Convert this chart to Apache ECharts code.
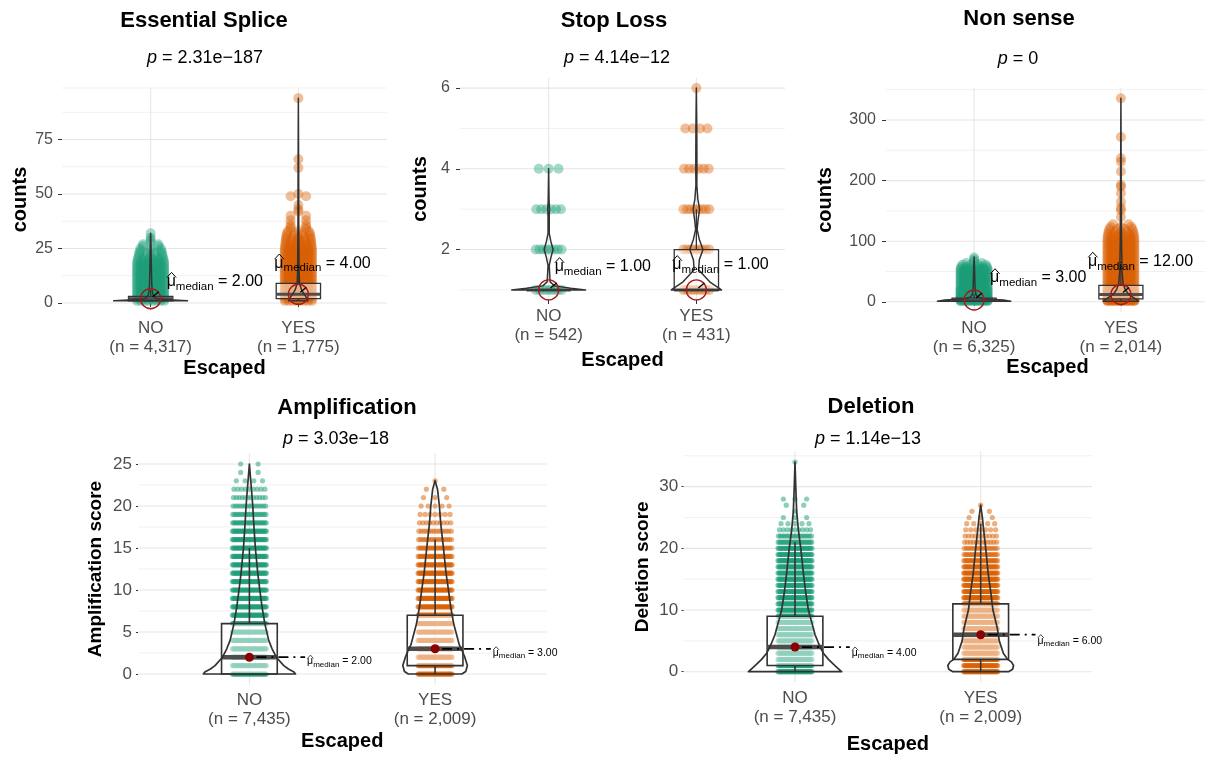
<!DOCTYPE html>
<html>
<head>
<meta charset="utf-8">
<script src="https://cdn.jsdelivr.net/npm/echarts@6/dist/echarts.min.js"></script>
<style>
  html, body { margin: 0; padding: 0; background: #ffffff; }
  #chart { width: 1205px; height: 757px; }
</style>
</head>
<body>
<div id="chart"></div>
<script>
// ---------------- data ----------------
const groups = ['NO', 'YES'];

// Essential Splice
const esP = '2.31e\u2212187';
const esN = [4317, 1775];
const esMedian = [2, 4];
const esQ1 = [1, 2];
const esQ3 = [3, 9];
const esWhiskerLo = [1, 1];
const esWhiskerHi = [6, 19];
const esTicks = [0, 25, 50, 75];
const esMinorTicks = [12.5, 37.5, 62.5, 87.5];
const esNoValues = [1,2,3,4,5,6,7,8,9,10,11,12,13,14,15,16,17,18,19,20,21,22,23,24,25,26,27,28,29,30,32];
const esNoCounts = [1700,1000,550,300,200,130,90,65,50,40,32,26,21,17,14,12,10,8,7,6,5,4,4,3,3,2,2,1,1,1,1];
const esYesValues = [1,2,3,4,5,6,7,8,9,10,11,12,13,14,15,16,17,18,19,20,21,22,23,24,25,26,27,28,29,30,31,32,33,34,35,36,38,40,42,43,45,49,50,62,66,94];
const esYesCounts = [300,260,210,160,140,115,95,80,68,58,50,43,37,32,28,24,21,18,16,14,12,11,10,9,8,7,6,6,5,5,4,4,3,2,2,2,2,2,1,1,1,2,1,1,1,1];
const esNoDensityY = [1, 1.5, 2, 3, 5, 8, 15, 25, 32];
const esNoDensityW = [0.25, 0.12, 0.04, 0.02, 0.012, 0.008, 0.005, 0.003, 0];
const esYesDensityY = [1, 2, 4, 6, 9, 15, 30, 60, 94];
const esYesDensityW = [0.065, 0.06, 0.04, 0.022, 0.008, 0.005, 0.003, 0.002, 0];

// Stop Loss
const slP = '4.14e\u221212';
const slN = [542, 431];
const slMedian = [1, 1];
const slQ1 = [1, 1];
const slQ3 = [1, 2];
const slWhiskerLo = [1, 1];
const slWhiskerHi = [1, 3];
const slTicks = [2, 4, 6];
const slMinorTicks = [1, 3, 5];
const slNoValues = [1, 2, 3, 4];
const slNoCounts = [425, 108, 6, 3];
const slYesValues = [1, 2, 3, 4, 5, 6];
const slYesCounts = [220, 112, 88, 6, 4, 1];
const slNoDensityY = [1, 1.04, 1.1, 1.2, 1.6, 1.8, 2, 2.2, 2.4, 2.8, 3, 3.2, 4];
const slNoDensityW = [0.25, 0.15, 0.04, 0.01, 0.004, 0.015, 0.03, 0.015, 0.004, 0.004, 0.006, 0.003, 0];
const slYesDensityY = [1, 1.2, 1.5, 1.75, 2, 2.25, 2.5, 2.75, 3, 3.25, 3.6, 4, 5, 6];
const slYesDensityW = [0.17, 0.09, 0.015, 0.02, 0.045, 0.02, 0.005, 0.012, 0.022, 0.01, 0.003, 0.004, 0.003, 0];

// Non sense
const nsP = '0';
const nsN = [6325, 2014];
const nsMedian = [3, 12];
const nsQ1 = [1, 5];
const nsQ3 = [6, 27];
const nsWhiskerLo = [1, 1];
const nsWhiskerHi = [13, 60];
const nsTicks = [0, 100, 200, 300];
const nsMinorTicks = [50, 150, 250, 350];
const nsNoValues = [1,2,3,4,5,6,7,8,10,12,14,16,18,20,22,25,28,31,34,37,40,43,46,49,52,55,58,61,64,67,70,73];
const nsNoCounts = [1900,1000,700,500,380,300,240,200,320,260,210,170,140,115,95,120,95,75,60,48,40,32,26,20,14,9,6,4,2,1,1,1];
const nsYesValues = [1,2,3,4,6,8,10,12,14,16,18,20,24,28,32,36,40,44,48,52,56,60,64,68,72,76,80,84,88,92,96,100,104,108,112,116,120,124,128,140,151,155,165,179,190,193,215,231,237,272,336];
const nsYesCounts = [150,140,130,120,110,100,90,80,70,60,55,50,45,42,38,35,32,30,28,26,24,22,20,18,16,15,14,13,12,11,10,9,8,7,6,5,4,3,2,1,1,1,1,1,1,1,1,1,1,1,1];
const nsNoDensityY = [1, 3, 5, 8, 12, 20, 35, 55, 74];
const nsNoDensityW = [0.25, 0.2, 0.06, 0.025, 0.012, 0.007, 0.005, 0.003, 0];
const nsYesDensityY = [1, 5, 10, 15, 20, 30, 50, 100, 200, 336];
const nsYesDensityW = [0.12, 0.1, 0.065, 0.045, 0.03, 0.015, 0.008, 0.004, 0.002, 0];

// Amplification
const ampP = '3.03e\u221218';
const ampN = [7435, 2009];
const ampMedian = [2, 3];
const ampQ1 = [0, 1];
const ampQ3 = [6, 7];
const ampWhiskerLo = [0, 0];
const ampWhiskerHi = [15, 16];
const ampTicks = [0, 5, 10, 15, 20, 25];
const ampMinorTicks = [2.5, 7.5, 12.5, 17.5, 22.5];
const ampNoValues = [0,1,2,3,4,5,6,7,8,9,10,11,12,13,14,15,16,17,18,19,20,21,22,23,24,25];
const ampNoCounts = [1500,1300,1000,700,550,420,340,270,220,180,150,125,100,85,70,57,45,36,28,21,16,12,9,4,2,2];
const ampYesValues = [0,1,2,3,4,5,6,7,8,9,10,11,12,13,14,15,16,17,18,19,20,21,22,23];
const ampYesCounts = [230,310,260,280,150,170,140,115,95,80,65,55,45,38,30,24,18,14,10,7,5,3,2,1];
const ampNoDensityY = [0, 0.25, 0.6, 1, 2, 3, 4, 6, 8, 10, 12, 15, 18, 20, 22, 25];
const ampNoDensityW = [0.248, 0.24, 0.21, 0.185, 0.145, 0.122, 0.104, 0.083, 0.068, 0.056, 0.045, 0.032, 0.023, 0.018, 0.011, 0];
const ampYesDensityY = [0, 0.3, 1, 2, 2.8, 3.5, 5, 6, 8, 10, 12, 15, 18, 20, 22, 23];
const ampYesDensityW = [0.144, 0.165, 0.174, 0.16, 0.145, 0.13, 0.112, 0.1, 0.084, 0.072, 0.059, 0.045, 0.03, 0.023, 0.013, 0];

// Deletion
const delP = '1.14e\u221213';
const delN = [7435, 2009];
const delMedian = [4, 6];
const delQ1 = [1, 2];
const delQ3 = [9, 11];
const delWhiskerLo = [0, 0];
const delWhiskerHi = [21, 24];
const delTicks = [0, 10, 20, 30];
const delMinorTicks = [5, 15, 25, 35];
const delNoValues = [0,1,2,3,4,5,6,7,8,9,10,11,12,13,14,15,16,17,18,19,20,21,22,23,24,25,26,27,28,34];
const delNoCounts = [700,900,850,780,720,620,540,470,400,340,290,245,205,170,140,115,95,78,62,48,36,27,20,9,5,3,1,2,3,1];
const delYesValues = [0,1,2,3,4,5,6,7,8,9,10,11,12,13,14,15,16,17,18,19,20,21,22,23,24,25,26,27];
const delYesCounts = [120,140,120,135,140,140,135,128,120,110,100,92,82,72,62,52,43,35,28,22,17,12,10,7,5,3,2,1];
const delNoDensityY = [0, 0.3, 1, 2, 3, 4, 6, 8, 10, 13, 16, 20, 23, 26, 30, 34];
const delNoDensityW = [0.251, 0.24, 0.215, 0.18, 0.153, 0.135, 0.108, 0.09, 0.072, 0.057, 0.045, 0.031, 0.018, 0.009, 0.004, 0];
const delYesDensityY = [0, 0.4, 1, 1.6, 2, 3, 5, 7, 10, 13, 16, 20, 23, 25, 27];
const delYesDensityW = [0.15, 0.172, 0.177, 0.165, 0.145, 0.122, 0.1, 0.09, 0.066, 0.054, 0.04, 0.027, 0.016, 0.009, 0];

// ---------------- panels ----------------
const panelData = [
  { title: 'Essential Splice', p: esP, n: esN, median: esMedian, q1: esQ1, q3: esQ3, lo: esWhiskerLo, hi: esWhiskerHi,
    ticks: esTicks, minor: esMinorTicks, yName: 'counts',
    rows: [[esNoValues, esNoCounts], [esYesValues, esYesCounts]],
    density: [[esNoDensityY, esNoDensityW], [esYesDensityY, esYesDensityW]] },
  { title: 'Stop Loss', p: slP, n: slN, median: slMedian, q1: slQ1, q3: slQ3, lo: slWhiskerLo, hi: slWhiskerHi,
    ticks: slTicks, minor: slMinorTicks, yName: 'counts',
    rows: [[slNoValues, slNoCounts], [slYesValues, slYesCounts]],
    density: [[slNoDensityY, slNoDensityW], [slYesDensityY, slYesDensityW]] },
  { title: 'Non sense', p: nsP, n: nsN, median: nsMedian, q1: nsQ1, q3: nsQ3, lo: nsWhiskerLo, hi: nsWhiskerHi,
    ticks: nsTicks, minor: nsMinorTicks, yName: 'counts',
    rows: [[nsNoValues, nsNoCounts], [nsYesValues, nsYesCounts]],
    density: [[nsNoDensityY, nsNoDensityW], [nsYesDensityY, nsYesDensityW]] },
  { title: 'Amplification', p: ampP, n: ampN, median: ampMedian, q1: ampQ1, q3: ampQ3, lo: ampWhiskerLo, hi: ampWhiskerHi,
    ticks: ampTicks, minor: ampMinorTicks, yName: 'Amplification score',
    rows: [[ampNoValues, ampNoCounts], [ampYesValues, ampYesCounts]],
    density: [[ampNoDensityY, ampNoDensityW], [ampYesDensityY, ampYesDensityW]] },
  { title: 'Deletion', p: delP, n: delN, median: delMedian, q1: delQ1, q3: delQ3, lo: delWhiskerLo, hi: delWhiskerHi,
    ticks: delTicks, minor: delMinorTicks, yName: 'Deletion score',
    rows: [[delNoValues, delNoCounts], [delYesValues, delYesCounts]],
    density: [[delNoDensityY, delNoDensityW], [delYesDensityY, delYesDensityW]] }
];

// ---------------- layout & style ----------------
const FONT = '"Liberation Sans", Arial, Helvetica, sans-serif';
const GREEN = '27,158,119';
const ORANGE = '217,95,2';

const BIG = { dotR: 5, cap: 8, alpha: 0.4, yFont: 16, xFont: 17, xLineH: 19, tickLen: 4, labelFs: 16, labelSub: 11.5,
  boxLW: 1.3, violinLW: 1.5, medLW: 3, titleFs: 22, subFs: 18, yNameFs: 20 };
const SMALL = { dotR: 2.6, cap: 40, alpha: 0.5, yFont: 17, xFont: 17, xLineH: 19, tickLen: 2, labelFs: 10.5, labelSub: 8,
  boxLW: 1.6, violinLW: 1.7, medLW: 4.5, titleFs: 22, subFs: 18, yNameFs: 19 };

const layouts = [
  { left: 62, top: 88, width: 325, height: 223, yMin: -3.65, yMax: 98.65, titleX: 204, titleY: 21, subX: 205, subY: 58,
    S: BIG, jitter: 0.105, yNameGap: 32, xNameGap: 47, yLabelMargin: 9, xLabelMargin: 8,
    labelOffsets: [[16, -17], [-24, -31]], edgeLine: true },
  { left: 460, top: 78, width: 325, height: 222, yMin: 0.75, yMax: 6.25, titleX: 614, titleY: 21, subX: 617, subY: 58,
    S: BIG, jitter: 0.1, yNameGap: 30, xNameGap: 50, yLabelMargin: 10, xLabelMargin: 7,
    labelOffsets: [[6, -23], [-24, -25]] },
  { left: 886, top: 88, width: 323, height: 224, yMin: -16.8, yMax: 352.8, titleX: 1019, titleY: 19, subX: 1018, subY: 59,
    S: BIG, jitter: 0.105, yNameGap: 51, xNameGap: 45, yLabelMargin: 10, xLabelMargin: 7,
    labelOffsets: [[16, -22], [-33, -33]] },
  { left: 138, top: 453.5, width: 408.5, height: 231, yMin: -1.25, yMax: 26.25, titleX: 347, titleY: 408, subX: 336, subY: 439,
    S: SMALL, jitter: 0.094, yNameGap: 33, xNameGap: 47, yLabelMargin: 6, xLabelMargin: 6.5,
    labelLead: 0.3, labelDy: 4 },
  { left: 683.6, top: 451.5, width: 408.5, height: 230.7, yMin: -1.7, yMax: 35.7, titleX: 871, titleY: 407, subX: 868, subY: 439,
    S: SMALL, jitter: 0.094, yNameGap: 31, xNameGap: 52, yLabelMargin: 5.5, xLabelMargin: 6.5,
    labelLead: 0.295, labelDy: 6 }
];

// ---------------- helpers ----------------
const measureCtx = document.createElement('canvas').getContext('2d');
function textWidth(str, size) {
  measureCtx.font = size + 'px ' + FONT;
  return measureCtx.measureText(str).width;
}
function textEl(x, y, str, size) {
  return {
    type: 'text', x: x, y: y,
    style: { text: str, fill: '#000', font: size + 'px ' + FONT,
      align: 'left', verticalAlign: 'middle', textAlign: 'left', textVerticalAlign: 'middle' }
  };
}
// "mu-hat with subscript median = value"
function medianLabel(children, lx, ly, value, fs, subFs) {
  const muW = textWidth('\u03bc', fs);
  const subW = textWidth('median', subFs);
  children.push(textEl(lx, ly, '\u03bc', fs));
  children.push({ type: 'polyline',
    shape: { points: [[lx + 0.3, ly - 0.26 * fs], [lx + muW / 2 + 0.3, ly - 0.58 * fs], [lx + muW + 0.3, ly - 0.26 * fs]] },
    style: { stroke: '#000', fill: 'none', lineWidth: fs > 12 ? 1 : 0.7 } });
  children.push(textEl(lx + muW, ly + 0.3 * fs, 'median', subFs));
  children.push(textEl(lx + muW + subW, ly, ' = ' + value.toFixed(2), fs));
}
function fmtN(n) { return n.toLocaleString('en-US'); }

// ---------------- build option ----------------
const grids = [], xAxes = [], yAxes = [], series = [], graphics = [];

panelData.forEach(function (d, i) {
  const L = layouts[i];
  const S = L.S;

  grids.push({ left: L.left, top: L.top, width: L.width, height: L.height, containLabel: false, outerBoundsMode: 'none' });

  xAxes.push({
    type: 'value', gridIndex: i, min: 0.4, max: 2.6,
    axisLine: { show: false }, splitLine: { show: false },
    axisTick: { show: true, customValues: [1, 2], length: S.tickLen, lineStyle: { color: '#333', width: 1 } },
    axisLabel: { customValues: [1, 2], margin: L.xLabelMargin, color: '#4D4D4D', fontSize: S.xFont, lineHeight: S.xLineH,
      fontFamily: FONT,
      formatter: function (v) { const g = Math.round(v) - 1; return groups[g] + '\n(n = ' + fmtN(d.n[g]) + ')'; } },
    name: 'Escaped', nameLocation: 'middle', nameGap: L.xNameGap,
    nameTextStyle: { fontWeight: 'bold', fontSize: 20, color: '#000', fontFamily: FONT }
  });

  yAxes.push({
    type: 'value', gridIndex: i, min: L.yMin, max: L.yMax,
    axisLine: { show: false }, splitLine: { show: false }, minorSplitLine: { show: false },
    axisTick: { show: true, customValues: d.ticks, length: S.tickLen, lineStyle: { color: '#333', width: 1 } },
    axisLabel: { customValues: d.ticks, margin: L.yLabelMargin, color: '#4D4D4D', fontSize: S.yFont, fontFamily: FONT },
    name: d.yName, nameLocation: 'middle', nameGap: L.yNameGap, nameRotate: 90,
    nameTextStyle: { fontWeight: 'bold', fontSize: S.yNameFs, color: '#000', fontFamily: FONT }
  });

  // background grid lines: 0 = major, 1 = minor, 2 = vertical at a group
  const lineData = d.ticks.map(v => [0, v])
    .concat(d.minor.map(v => [1, v]))
    .concat([[2, 1], [2, 2]]);
  if (L.edgeLine) lineData.push([1, L.yMax]);
  series.push({
    type: 'custom', xAxisIndex: i, yAxisIndex: i, z: 0, silent: true, data: lineData,
    renderItem: function (params, api) {
      const kind = api.value(0), v = api.value(1);
      let a, b;
      if (kind === 2) { a = api.coord([v, L.yMin]); b = api.coord([v, L.yMax]); }
      else { a = api.coord([0.4, v]); b = api.coord([2.6, v]); }
      return { type: 'line', shape: { x1: a[0], y1: a[1], x2: b[0], y2: b[1] },
        style: { stroke: kind === 1 ? '#EFEFEF' : '#E6E6E6', lineWidth: kind === 1 ? 0.9 : 1.1 } };
    }
  });

  // jittered observations, one item per distinct value
  const pts = [];
  d.rows.forEach(function (r, g) { r[0].forEach(function (v, j) { pts.push([g + 1, v, r[1][j]]); }); });
  series.push({
    type: 'custom', xAxisIndex: i, yAxisIndex: i, z: 1, silent: true, data: pts,
    renderItem: function (params, api) {
      const gx = api.value(0), v = api.value(1), cnt = api.value(2);
      const k = Math.min(cnt, S.cap);
      const col = 'rgba(' + (gx === 1 ? GREEN : ORANGE) + ',' + S.alpha + ')';
      const ch = [];
      for (let m = 0; m < k; m++) {
        const off = -L.jitter + 2 * L.jitter * (m + 0.5) / k;
        const c = api.coord([gx + off, v]);
        ch.push({ type: 'circle', shape: { cx: c[0], cy: c[1], r: S.dotR }, style: { fill: col } });
      }
      return { type: 'group', children: ch };
    }
  });

  // box plots
  series.push({
    type: 'custom', xAxisIndex: i, yAxisIndex: i, z: 2, silent: true,
    data: [0, 1].map(g => [g + 1, d.q1[g], d.median[g], d.q3[g], d.lo[g], d.hi[g]]),
    renderItem: function (params, api) {
      const x = api.value(0), q1 = api.value(1), md = api.value(2), q3 = api.value(3), lo = api.value(4), hi = api.value(5);
      const hw = 0.15;
      const tl = api.coord([x - hw, q3]), br = api.coord([x + hw, q1]);
      const cHi = api.coord([x, hi]), cQ3 = api.coord([x, q3]), cQ1 = api.coord([x, q1]), cLo = api.coord([x, lo]);
      const mL = api.coord([x - hw, md]), mR = api.coord([x + hw, md]);
      return { type: 'group', children: [
        { type: 'line', shape: { x1: cQ3[0], y1: cQ3[1], x2: cHi[0], y2: cHi[1] }, style: { stroke: '#333', lineWidth: S.boxLW } },
        { type: 'line', shape: { x1: cQ1[0], y1: cQ1[1], x2: cLo[0], y2: cLo[1] }, style: { stroke: '#333', lineWidth: S.boxLW } },
        { type: 'rect', shape: { x: tl[0], y: tl[1], width: br[0] - tl[0], height: br[1] - tl[1] },
          style: { fill: 'rgba(255,255,255,0.5)', stroke: '#333', lineWidth: S.boxLW } },
        { type: 'line', shape: { x1: mL[0], y1: mL[1], x2: mR[0], y2: mR[1] }, style: { stroke: '#4D4D4D', lineWidth: S.medLW } }
      ] };
    }
  });

  // violins
  series.push({
    type: 'custom', xAxisIndex: i, yAxisIndex: i, z: 3, silent: true,
    data: [[1, 0], [2, 1]],
    renderItem: function (params, api) {
      const x = api.value(0), g = api.value(1);
      const ys = d.density[g][0], ws = d.density[g][1];
      const right = ys.map((y, j) => api.coord([x + ws[j], y]));
      const left = ys.map((y, j) => api.coord([x - ws[j], y])).reverse();
      return { type: 'polygon', shape: { points: right.concat(left) },
        style: { fill: 'none', stroke: '#333', lineWidth: S.violinLW, lineJoin: 'round' } };
    }
  });

  // median markers and labels
  series.push({
    type: 'custom', xAxisIndex: i, yAxisIndex: i, z: 4, silent: true,
    data: [0, 1].map(g => [g + 1, d.median[g], g]),
    renderItem: function (params, api) {
      const x = api.value(0), md = api.value(1), g = api.value(2);
      const c = api.coord([x, md]);
      const ch = [];
      if (S === BIG) {
        ch.push({ type: 'circle', shape: { cx: c[0], cy: c[1], r: 10 }, style: { fill: 'none', stroke: '#A31A1A', lineWidth: 1.4 } });
        ch.push({ type: 'line', shape: { x1: c[0] + 2, y1: c[1] - 2, x2: c[0] + 8, y2: c[1] - 7 }, style: { stroke: '#000', lineWidth: 1.3 } });
        const off = L.labelOffsets[g];
        medianLabel(ch, c[0] + off[0], c[1] + off[1], md, S.labelFs, S.labelSub);
      } else {
        const end = api.coord([x + L.labelLead, md]);
        ch.push({ type: 'line', shape: { x1: c[0], y1: c[1], x2: end[0], y2: end[1] },
          style: { stroke: '#000', lineWidth: 1.8, lineDash: [2, 5, 10, 5] } });
        ch.push({ type: 'circle', shape: { cx: c[0], cy: c[1], r: 4.5 }, style: { fill: '#8B0000' } });
        medianLabel(ch, end[0] + 2, c[1] + L.labelDy, md, S.labelFs, S.labelSub);
      }
      return { type: 'group', children: ch };
    }
  });

  // title and p-value subtitle
  graphics.push({ type: 'text', x: L.titleX, y: L.titleY, z: 10,
    style: { text: d.title, fill: '#000', font: 'bold ' + S.titleFs + 'px ' + FONT,
      align: 'center', verticalAlign: 'middle', textAlign: 'center', textVerticalAlign: 'middle' } });
  graphics.push({ type: 'text', x: L.subX, y: L.subY, z: 10,
    style: { text: '{i|p} = ' + d.p, fill: '#000', fontSize: S.subFs, fontFamily: FONT,
      rich: { i: { fontStyle: 'italic', fontSize: S.subFs, fontFamily: FONT, fill: '#000' } },
      align: 'center', verticalAlign: 'middle', textAlign: 'center', textVerticalAlign: 'middle' } });
});

const chart = echarts.init(document.getElementById('chart'), null, { renderer: 'canvas' });
chart.setOption({
  animation: false,
  backgroundColor: '#ffffff',
  grid: grids,
  xAxis: xAxes,
  yAxis: yAxes,
  series: series,
  graphic: { elements: graphics }
});
</script>
</body>
</html>
